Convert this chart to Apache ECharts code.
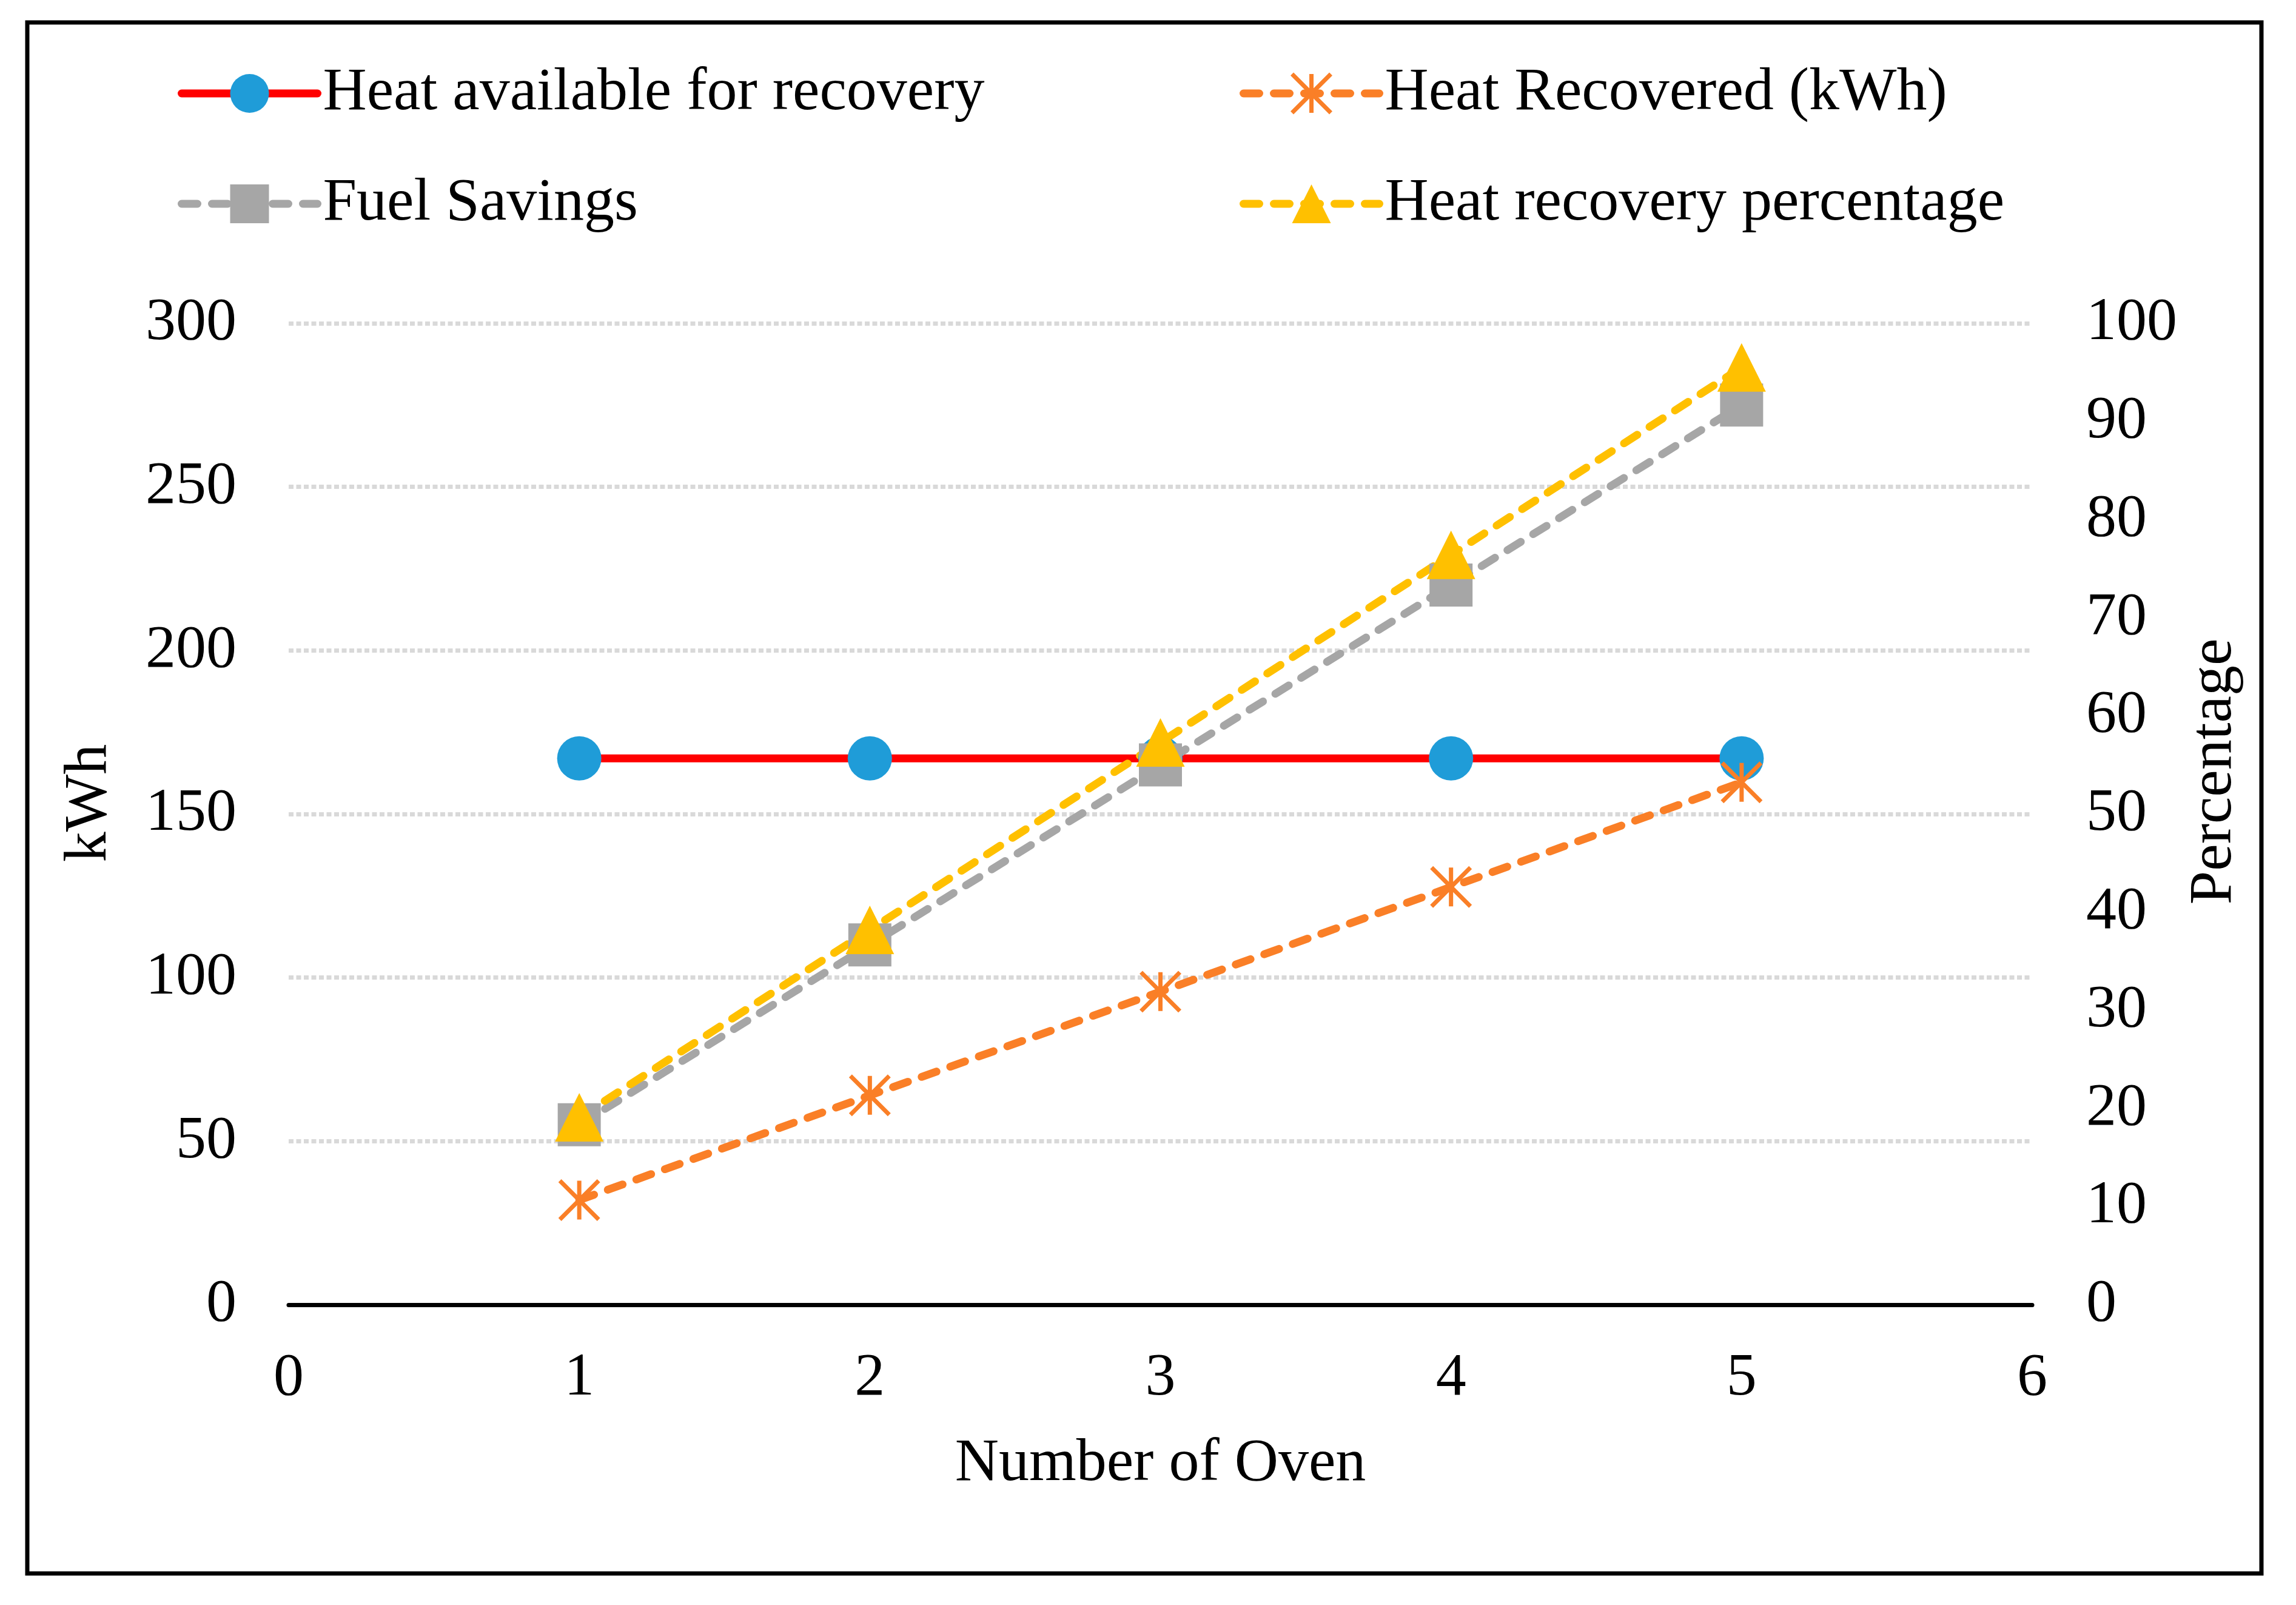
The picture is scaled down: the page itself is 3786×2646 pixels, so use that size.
<!DOCTYPE html>
<html>
<head>
<meta charset="utf-8">
<script src="https://cdn.jsdelivr.net/npm/echarts@6/dist/echarts.min.js"></script>
<style>
html,body{margin:0;padding:0;background:#fff;}
#chart{width:3786px;height:2646px;}
</style>
</head>
<body>
<div id="chart"></div>
<script>
// ---- data ----
const ovenCount = [1, 2, 3, 4, 5];
const heatAvailable = [167, 167, 167, 167, 167];
const heatRecovered = [32, 64, 95.7, 127.7, 159.7];
const fuelSavings = [55, 110, 165, 220, 275];
const recoveryPct = [19.1, 38.2, 57.3, 76.4, 95.5];
const seriesNames = ['Heat available for recovery', 'Heat Recovered (kWh)', 'Fuel Savings', 'Heat recovery percentage'];
const xAxisTitle = 'Number of Oven';
const leftAxisTitle = 'kWh';
const rightAxisTitle = 'Percentage';

const FONT = '"Liberation Serif", "Times New Roman", serif';
const pairs = (vals) => ovenCount.map((x, i) => [x, vals[i]]);
const asterisk = 'path://M10 0 L10 20 M0 0 L20 20 M0 20 L20 0';
const dash = [26, 24];

const chart = echarts.init(document.getElementById('chart'), null, {renderer: 'canvas'});

const legendPlaces = [
  {name: seriesNames[0], left: 293, top: 104, color: '#FF0000', type: 'solid', bw: 0},
  {name: seriesNames[1], left: 2044, top: 104, color: '#FA7F27', type: dash, bw: 7},
  {name: seriesNames[2], left: 293, top: 286, color: '#A6A6A6', type: dash, bw: 0},
  {name: seriesNames[3], left: 2044, top: 286, color: '#FFC000', type: dash, bw: 0}
];

const option = {
  backgroundColor: '#ffffff',
  animation: false,
  textStyle: {fontFamily: FONT},
  graphic: [{
    type: 'rect',
    shape: {x: 45, y: 37, width: 3684, height: 2557},
    style: {fill: 'none', stroke: '#000', lineWidth: 7},
    silent: true
  }],
  legend: legendPlaces.map(p => {
    const lg = {
      data: [p.name],
      left: p.left,
      top: p.top,
      padding: 0,
      itemWidth: 224,
      itemHeight: 80,
      lineStyle: {width: 13, color: p.color, type: p.type, cap: 'round'},
      textStyle: {fontFamily: FONT, fontSize: 100, color: '#000', padding: [0, 0, 0, 4]}
    };
    if (p.bw) lg.itemStyle = {borderColor: p.color, borderWidth: p.bw};
    return lg;
  }),
  grid: {left: 476, right: 435, top: 533, bottom: 495, containLabel: false},
  xAxis: {
    type: 'value', min: 0, max: 6, interval: 1,
    name: xAxisTitle, nameLocation: 'middle', nameGap: 213,
    nameTextStyle: {fontFamily: FONT, fontSize: 100, color: '#000'},
    axisLine: {show: true, onZero: false, lineStyle: {color: '#000', width: 7}},
    axisTick: {show: false},
    splitLine: {show: false},
    axisLabel: {fontFamily: FONT, fontSize: 100, color: '#000', margin: 72}
  },
  yAxis: [{
    type: 'value', min: 0, max: 300, interval: 50, position: 'left',
    name: leftAxisTitle, nameLocation: 'middle', nameGap: 278,
    nameTextStyle: {fontFamily: FONT, fontSize: 100, color: '#000', padding: [0, 0, 0, 36]},
    axisLine: {show: false}, axisTick: {show: false},
    splitLine: {show: true, lineStyle: {color: '#D9D9D9', width: 7, type: [8, 4.5]}},
    axisLabel: {fontFamily: FONT, fontSize: 100, color: '#000', margin: 86}
  }, {
    type: 'value', min: 0, max: 100, interval: 10, position: 'right',
    name: rightAxisTitle, nameLocation: 'middle', nameGap: 251,
    nameTextStyle: {fontFamily: FONT, fontSize: 100, color: '#000', padding: [0, 0, 0, 140]},
    axisLine: {show: false}, axisTick: {show: false},
    splitLine: {show: false},
    axisLabel: {fontFamily: FONT, fontSize: 100, color: '#000', margin: 89}
  }],
  series: [{
    name: seriesNames[0], type: 'line', yAxisIndex: 0,
    data: pairs(heatAvailable),
    symbol: 'circle', symbolSize: 73,
    lineStyle: {color: '#FF0000', width: 13, cap: 'round'},
    itemStyle: {color: '#1F9CD8'}
  }, {
    name: seriesNames[1], type: 'line', yAxisIndex: 0,
    data: pairs(heatRecovered),
    symbol: asterisk, symbolSize: 64,
    lineStyle: {color: '#FA7F27', width: 13, type: dash, cap: 'round'},
    itemStyle: {color: '#FA7F27', borderColor: '#FA7F27', borderWidth: 7}
  }, {
    name: seriesNames[2], type: 'line', yAxisIndex: 0,
    data: pairs(fuelSavings),
    symbol: 'rect', symbolSize: 71,
    lineStyle: {color: '#A6A6A6', width: 13, type: dash, cap: 'round'},
    itemStyle: {color: '#A6A6A6'}
  }, {
    name: seriesNames[3], type: 'line', yAxisIndex: 1,
    data: pairs(recoveryPct),
    symbol: 'triangle', symbolSize: 80,
    lineStyle: {color: '#FFC000', width: 13, type: dash, cap: 'round'},
    itemStyle: {color: '#FFC000'}
  }]
};
chart.setOption(option);
</script>
</body>
</html>
